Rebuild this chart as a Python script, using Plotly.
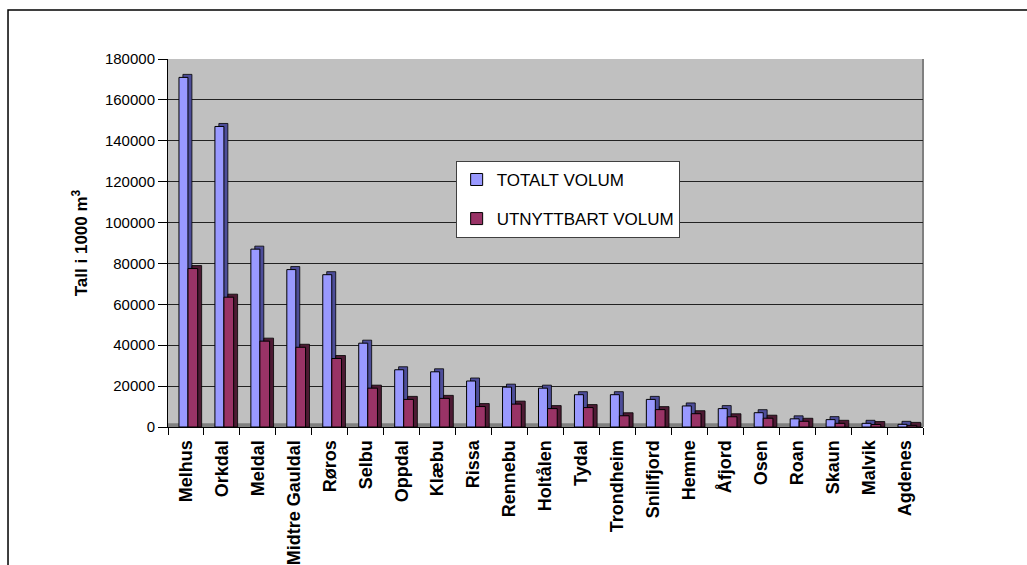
import plotly.graph_objects as go

categories = ["Melhus", "Orkdal", "Meldal", "Midtre Gauldal", "Røros", "Selbu", "Oppdal",
              "Klæbu", "Rissa", "Rennebu", "Holtålen", "Tydal", "Trondheim", "Snillfjord",
              "Hemne", "Åfjord", "Osen", "Roan", "Skaun", "Malvik", "Agdenes"]
totalt = [171000, 147000, 87000, 77000, 74500, 41000, 28000, 27000, 22500, 19500, 19000,
          15800, 15800, 13500, 10300, 9000, 7000, 4000, 3600, 1800, 1300]
utnyttbart = [77500, 63500, 42000, 39000, 33500, 19000, 13500, 14000, 10000, 11200, 9000,
              9500, 5500, 8500, 6500, 5000, 4300, 2800, 1800, 1200, 800]
y_ticks = [0, 20000, 40000, 60000, 80000, 100000, 120000, 140000, 160000, 180000]

series_names = ["TOTALT VOLUM", "UTNYTTBART VOLUM"]
front_colors = ["#9999FF", "#993366"]
side_colors = ["#4D4D99", "#4D1A33"]

FONT = "Liberation Sans, Arial, sans-serif"
cap = 1470      # depth of 3D top cap in data units
shift = 0.11    # depth of 3D side in category units

fig = go.Figure()
offsets = [-0.195, 0.056]
widths = [0.25, 0.27]
for i, vals in enumerate([totalt, utnyttbart]):
    fig.add_trace(go.Bar(
        x=categories, y=[v + cap for v in vals], offset=offsets[i] + shift, width=widths[i],
        marker=dict(color=side_colors[i], line=dict(color="#000000", width=0.8)),
        showlegend=False, hoverinfo="skip"))
    fig.add_trace(go.Bar(
        x=categories, y=vals, offset=offsets[i], width=widths[i], name=series_names[i],
        legendgroup=series_names[i],
        marker=dict(color=front_colors[i], line=dict(color="#000000", width=1))))

fig.update_layout(
    width=1027, height=565,
    barmode="overlay",
    paper_bgcolor="#FFFFFF",
    plot_bgcolor="#C0C0C0",
    margin=dict(l=168, r=104, t=59, b=138, autoexpand=False),
    font=dict(family=FONT, size=15, color="#000000"),
    legend=dict(
        x=0.381, y=0.723, xanchor="left", yanchor="top",
        bgcolor="#FFFFFF", bordercolor="#404040", borderwidth=1,
        font=dict(family=FONT, size=17, color="#000000"),
        tracegroupgap=14, itemwidth=30,
    ),
    xaxis=dict(
        type="category", tickangle=-90, showgrid=False, automargin=False,
        tickfont=dict(family=FONT, size=18, color="#000000", weight="bold"),
        ticks="outside", tickson="boundaries", ticklen=7, tickcolor="#000000",
        ticklabelstandoff=5,
        showline=True, linecolor="#000000", linewidth=1,
        range=[-0.5, len(categories) - 0.5],
    ),
    yaxis=dict(
        range=[0, 180000], tickvals=y_ticks, tickformat="d", automargin=False,
        tickfont=dict(family=FONT, size=15, color="#000000"),
        ticks="outside", ticklen=9, tickcolor="#000000",
        showline=True, linecolor="#000000", linewidth=1,
        showgrid=True, gridcolor="#222222", gridwidth=1, zeroline=False,
        title=dict(text="Tall i 1000 m<sup>3</sup>", standoff=12,
                   font=dict(family=FONT, size=17, color="#000000", weight="bold")),
    ),
    shapes=[
        dict(type="rect", xref="paper", yref="y", x0=0, x1=1, y0=0, y1=1800,
             fillcolor="#808080", line=dict(width=0), layer="below"),
        dict(type="line", xref="paper", yref="paper", x0=1, x1=1, y0=0, y1=1,
             line=dict(color="#808080", width=2), layer="below"),
        dict(type="rect", xref="paper", yref="paper", x0=-0.2119, x1=1.6, y0=-0.6, y1=1.1332,
             line=dict(color="#000000", width=1.5), fillcolor="rgba(0,0,0,0)"),
    ],
)

fig.write_html("out.html")
